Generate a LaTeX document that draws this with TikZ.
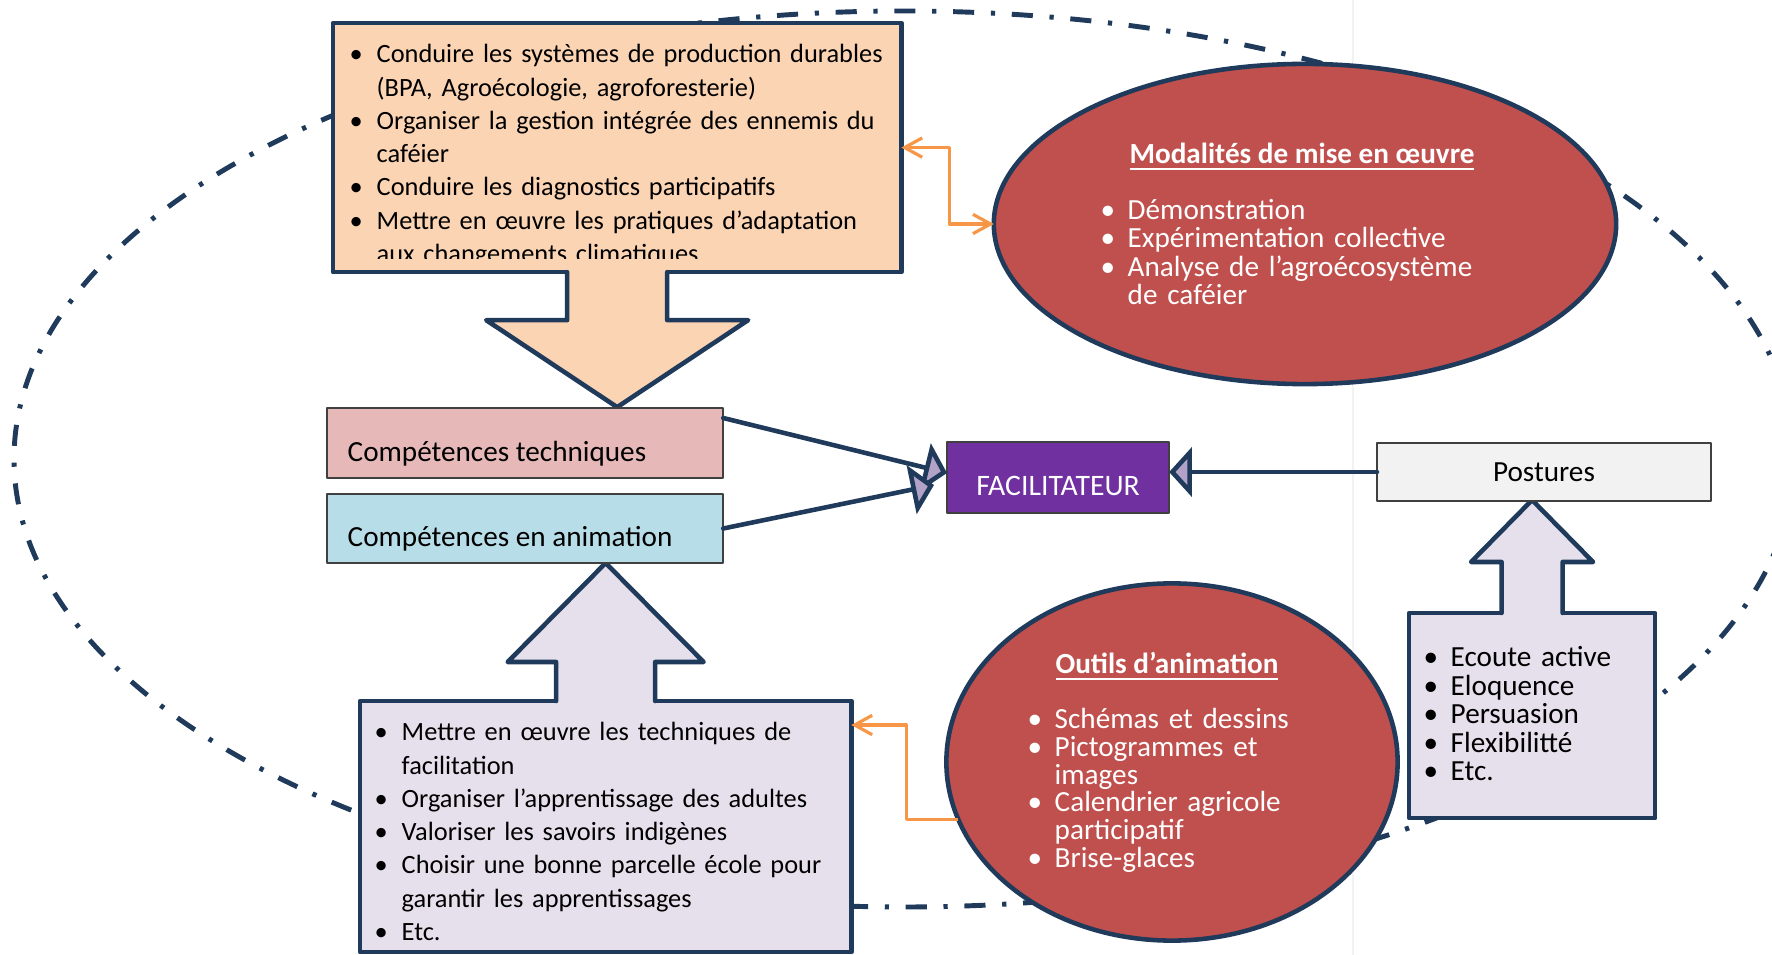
\documentclass[tikz,border=0pt]{standalone}
\usepackage{fontspec}
\setmainfont{Carlito}
\usetikzlibrary{arrows.meta}
\usetikzlibrary{shapes.geometric}
\definecolor{marine}{HTML}{1F3A5A}
\definecolor{peche}{HTML}{FBD4B4}
\definecolor{rose}{HTML}{E6B9B8}
\definecolor{ciel}{HTML}{B7DEE8}
\definecolor{pourpre}{HTML}{7030A0}
\definecolor{lavande}{HTML}{E5E0EC}
\definecolor{brique}{HTML}{C0504D}
\definecolor{orangeclair}{HTML}{F79646}
\definecolor{mauve}{HTML}{B3A2C7}
\definecolor{perle}{HTML}{F2F2F2}
\setlength{\lineskiplimit}{-10pt}
\newcommand{\puce}{\makebox[2.7mm][l]{\textbullet}}
\newcommand{\suite}{\hspace*{2.7mm}}

\begin{document}
\begin{tikzpicture}[line cap=round,line join=round,x=0.01cm,y=-0.01cm,
  >={Triangle[length=6.5pt,width=14pt,fill=mauve]},
  contour/.style={draw=marine,line width=1.4pt,line cap=butt,dash pattern=on 6pt off 4.75pt on 1.2pt off 4.75pt},
  bloc/.style={draw=marine,line width=1.3pt,anchor=north west,inner sep=0pt,outer sep=0pt},
  trait/.style={draw=marine,line width=1.3pt},
  cadre/.style={draw=black!75,line width=0.5pt,anchor=north west,inner sep=0pt,outer sep=0pt},
  bulle/.style={ellipse,draw=marine,line width=1.3pt,fill=brique,inner sep=0pt,outer sep=0pt},
  liste/.style={anchor=base west,inner sep=0pt,align=left,text width=6cm,font=\fontsize{7.5}{9.45}\selectfont},
  listeb/.style={liste,font=\fontsize{8.3}{8.05}\selectfont},
  libelle/.style={anchor=base west,inner sep=0pt,font=\fontsize{8.3}{10}\selectfont},
  titre/.style={anchor=base,inner sep=0pt,text=white,font=\fontsize{8.3}{10}\selectfont\bfseries},
  fleche/.style={draw=marine,line width=1.3pt,->},
  lien/.style={draw=orangeclair,line width=0.9pt,line cap=butt}]
\useasboundingbox (0,0) rectangle (1772,955);
\draw[black!5,line width=0.4pt] (1353,0) -- (1353,955);
\draw[contour] (904,459) ellipse [x radius=890, y radius=448];
%
\node[bloc,fill=peche,minimum width=5.68cm,minimum height=2.49cm] (prod) at (333,23) {};
\fill[peche] (prod.south) ++(-50,-4) -- ++(0,52) -- ++(-81,0) -- ++(131,87) -- ++(131,-87) -- ++(-81,0) -- ++(0,-52) -- cycle;
\draw[trait] (prod.south) ++(-50,0) -- ++(0,48) -- ++(-81,0) -- ++(131,87) -- ++(131,-87) -- ++(-81,0) -- ++(0,-48);
\begin{scope}
\clip (prod.north west) rectangle ([yshift=1.4mm]prod.south east);
\node[liste] (prod-txt) at (349,63) {\puce Conduire les systèmes de production durables\\
\suite (BPA, Agroécologie, agroforesterie)\\
\puce Organiser la gestion intégrée des ennemis du\\
\suite caféier\\
\puce Conduire les diagnostics participatifs\\
\puce Mettre en œuvre les pratiques d’adaptation\\
\suite aux changements climatiques};
\end{scope}
%
\node[bloc,fill=lavande,minimum width=4.91cm,minimum height=2.51cm] (techanim) at (360,701) {};
\fill[lavande] (techanim.north) ++(-49.5,4) -- ++(0,-43) -- ++(-48.5,0) -- ++(98,-99) -- ++(98,99) -- ++(-48.5,0) -- ++(0,43) -- cycle;
\draw[trait] (techanim.north) ++(-49.5,0) -- ++(0,-39) -- ++(-48.5,0) -- ++(98,-99) -- ++(98,99) -- ++(-48.5,0) -- ++(0,39);
\node[liste] (techanim-txt) at (374,741) {\puce Mettre en œuvre les techniques de\\
\suite facilitation\\
\puce Organiser l’apprentissage des adultes\\
\puce Valoriser les savoirs indigènes\\
\puce Choisir une bonne parcelle école pour\\
\suite garantir les apprentissages\\
\puce Etc.};
%
\node[bloc,fill=lavande,minimum width=2.46cm,minimum height=2.05cm] (qualites) at (1409,613) {};
\fill[lavande] (qualites.north) ++(-30.5,4) -- ++(0,-55) -- ++(-30.5,0) -- ++(61,-62) -- ++(61,62) -- ++(-30.5,0) -- ++(0,55) -- cycle;
\draw[trait] (qualites.north) ++(-30.5,0) -- ++(0,-51) -- ++(-30.5,0) -- ++(61,-62) -- ++(61,62) -- ++(-30.5,0) -- ++(0,51);
\node[listeb,font=\fontsize{8.3}{8.1}\selectfont] (qualites-txt) at (1423,667) {\puce Ecoute active\\
\puce Eloquence\\
\puce Persuasion\\
\puce Flexibilitté\\
\puce Etc.};
%
\node[cadre,fill=rose,minimum width=3.96cm,minimum height=0.70cm] (tech) at (327,408) {};
\node[libelle] (tech-txt) at (347,462) {Compétences techniques};
\node[cadre,fill=ciel,minimum width=3.96cm,minimum height=0.69cm] (anim) at (327,494) {};
\node[libelle] (anim-txt) at (347,547) {Compétences en animation};
\node[cadre,fill=pourpre,minimum width=2.22cm,minimum height=0.71cm] (facilitateur) at (947,442) {};
\node[libelle,anchor=base,text=white,font=\fontsize{8.45}{10}\selectfont] (facilitateur-txt) at (1058,496) {FACILITATEUR};
\node[cadre,fill=perle,minimum width=3.34cm,minimum height=0.58cm] (postures) at (1377,443) {};
\node[libelle,anchor=base] (postures-txt) at (1544,482) {Postures};
%
\node[bulle,minimum width=6.22cm,minimum height=3.2cm] (modalites) at (1305,224) {};
\node[titre] (modalites-titre) at (1302,164) {\underline{Modalités de mise en œuvre}};
\node[listeb,text=white] (modalites-txt) at (1100,219.5) {\puce Démonstration\\
\puce Expérimentation collective\\
\puce Analyse de l’agroécosystème\\
\suite de caféier};
\node[bulle,minimum width=4.51cm,minimum height=3.57cm] (outils) at (1172,762) {};
\node[titre] (outils-titre) at (1167,674) {\underline{Outils d’animation}};
\node[listeb,text=white,font=\fontsize{8.3}{7.9}\selectfont] (outils-txt) at (1027,728.5) {\puce Schémas et dessins\\
\puce Pictogrammes et\\
\suite images\\
\puce Calendrier agricole\\
\suite participatif\\
\puce Brise-glaces};
%
\draw[fleche] ([yshift=-1mm]tech.north east) -- ([yshift=0.45mm]facilitateur.west);
\draw[fleche] (anim.east) -- ([xshift=-1.3mm,yshift=-0.75mm]facilitateur.west);
\draw[fleche] (postures.west) -- (postures.west -| facilitateur.east);
%
\draw[lien,{Straight Barb[length=5pt,width=5.5pt]}-{Straight Barb[length=5pt,width=5.5pt]}] (prod.east) -- ++(48,0) |- (modalites.west);
\draw[lien,-{Straight Barb[length=5pt,width=5.5pt]}] (outils.195) -- ++(-52,0) |- ([yshift=-2.4mm]techanim.north east);
\end{tikzpicture}
\end{document}
